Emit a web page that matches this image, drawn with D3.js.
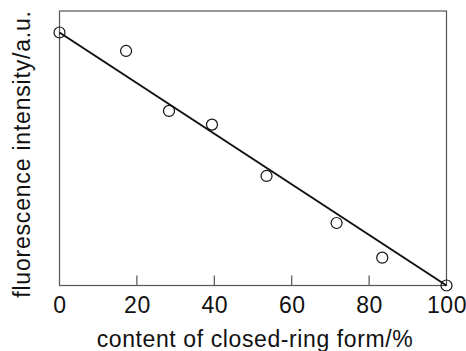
<!DOCTYPE html>
<html>
<head>
<meta charset="utf-8">
<script src="https://cdn.jsdelivr.net/npm/d3@7"></script>
<style>
  html,body{margin:0;padding:0;background:#fff;}
  svg{display:block;font-family:"Liberation Sans",Arial,Helvetica,sans-serif;}
</style>
</head>
<body>
<div id="chart"></div>
<script>
// data
const content=[0,17.2,28.3,39.4,53.5,71.6,83.4,100];
const intensity=[1.0,0.927,0.690,0.636,0.433,0.247,0.110,0.0];
const fitX=[0,100];
const fitY=[1.0,0.0];
const xTicks=[0,20,40,60,80,100];

(function(){
  const W=466,H=351,ink="#111",frame="#555";
  const m={top:11,right:19.5,bottom:65.5,left:59.5};
  const svg=d3.select("#chart").append("svg").attr("width",W).attr("height",H);
  const x=d3.scaleLinear().domain([0,100]).range([m.left,W-m.right]);
  const y=d3.scaleLinear().domain([0,1.085]).range([H-m.bottom,m.top]);

  // frame
  svg.append("rect")
    .attr("x",x(0)).attr("y",y(1.085))
    .attr("width",x(100)-x(0)).attr("height",y(0)-y(1.085))
    .attr("fill","none").attr("stroke",frame).attr("stroke-width",1.2);

  // bottom axis: inward ticks, no domain
  svg.append("g").attr("transform",`translate(0,${y(0)})`)
    .call(d3.axisBottom(x).tickValues(xTicks).tickSize(0).tickPadding(0).tickFormat(d3.format("d")))
    .call(s=>s.select(".domain").remove())
    .call(s=>s.selectAll("text").attr("y",27).attr("dy",null)
      .attr("font-size",23).attr("letter-spacing",0.5).attr("fill",ink)
      .attr("font-family","Liberation Sans, Arial, sans-serif"));

  svg.append("g").selectAll("line").data(xTicks.slice(1,-1)).join("line")
    .attr("x1",d=>x(d)).attr("x2",d=>x(d))
    .attr("y1",y(0)).attr("y2",y(0)-10)
    .attr("stroke",frame).attr("stroke-width",1.2);

  // fit line
  svg.append("path").datum(d3.zip(fitX,fitY))
    .attr("d",d3.line().x(d=>x(d[0])).y(d=>y(d[1])))
    .attr("fill","none").attr("stroke",ink).attr("stroke-width",2);

  // points
  svg.append("g").selectAll("circle").data(d3.zip(content,intensity)).join("circle")
    .attr("cx",d=>x(d[0])).attr("cy",d=>y(d[1])).attr("r",5.5)
    .attr("fill","none").attr("stroke",ink).attr("stroke-width",1.2);

  // axis titles
  svg.append("text").attr("x",(x(0)+x(100))/2+2).attr("y",347)
    .attr("text-anchor","middle").attr("font-size",23).attr("letter-spacing",0.6)
    .attr("fill",ink).text("content of closed-ring form/%");

  svg.append("text").attr("transform",`translate(30,154) rotate(-90)`)
    .attr("text-anchor","middle").attr("font-size",23).attr("letter-spacing",0.8)
    .attr("fill",ink).text("fluorescence intensity/a.u.");
})();
</script>
</body>
</html>
